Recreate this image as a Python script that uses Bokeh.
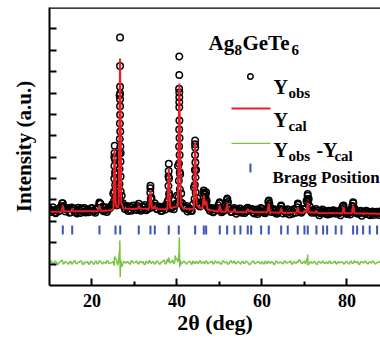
import numpy as np
from bokeh.plotting import figure
from bokeh.models import FixedTicker, Span, Range1d
from bokeh.embed import file_html
from bokeh.resources import INLINE
from bokeh.core.properties import value

# ---------------- data ----------------
scan_start, scan_step = 10.0, 0.5
obs_y = [
    3.60, 3.44, 3.52, 3.38, 3.58, 3.64, 3.85, 3.62, 3.55, 3.62,
    3.42, 3.60, 3.59, 3.37, 3.54, 3.61, 3.45, 3.41, 3.57, 3.51,
    3.62, 3.46, 3.54, 3.60, 3.82, 3.68, 3.52, 3.44, 3.60, 3.70,
    4.30, 5.20, 3.90, 8.90, 4.20, 3.70, 3.68, 3.48, 3.69, 3.63,
    3.57, 3.53, 3.82, 3.50, 3.70, 3.76, 3.58, 3.60, 4.10, 3.74,
    3.72, 3.56, 3.64, 3.50, 3.71, 3.77, 5.10, 3.60, 3.68, 3.75,
    4.20, 9.20, 4.30, 3.70, 3.66, 3.46, 3.61, 3.48, 4.60, 5.40,
    3.80, 3.70, 3.90, 4.30, 3.95, 3.60, 3.58, 3.42, 3.55, 3.52,
    3.85, 3.42, 3.50, 3.58, 3.90, 3.61, 3.44, 3.62, 3.36, 3.52,
    3.59, 3.43, 3.39, 3.60, 3.55, 3.58, 3.40, 3.48, 3.34, 3.52,
    3.58, 3.40, 3.50, 3.90, 3.55, 3.59, 3.41, 3.36, 3.50, 3.70,
    3.37, 3.45, 3.56, 3.32, 3.49, 3.56, 3.40, 3.78, 3.52, 3.46,
    3.55, 3.95, 4.05, 3.48, 3.53, 3.40, 3.50, 3.28, 3.45, 3.52,
    3.36, 3.32, 3.47, 3.41, 3.50, 3.35, 3.42, 3.28, 3.70, 3.50,
    3.34, 3.39, 3.55, 3.85, 3.40, 3.37, 3.47, 3.26, 3.43, 3.50,
    3.33, 3.29, 3.46, 3.39, 3.45, 3.30, 3.48,
]
# second interleaved set of observed points (10.25, 10.75, ...)
obs_y_mid = [
    3.52, 3.66, 3.41, 3.55, 3.47, 3.70, 3.72, 3.46, 3.58, 3.40,
    3.65, 3.50, 3.44, 3.63, 3.39, 3.56, 3.62, 3.48, 3.43, 3.60,
    3.50, 3.40, 3.63, 3.88, 3.55, 3.47, 3.66, 3.54, 3.62, 3.80,
    6.00, 3.85, 4.60, 6.20, 3.85, 3.58, 3.72, 3.55, 3.50, 3.74,
    3.66, 3.72, 3.60, 3.54, 3.66, 3.52, 3.70, 4.55, 3.66, 3.85,
    3.58, 3.70, 3.48, 3.62, 3.55, 3.90, 4.20, 3.62, 3.56, 3.82,
    5.60, 5.20, 3.85, 3.60, 3.72, 3.55, 3.50, 3.78, 6.60, 4.10,
    3.72, 3.80, 4.35, 4.25, 3.66, 3.50, 3.62, 3.46, 3.58, 3.75,
    3.62, 3.48, 3.55, 4.00, 3.60, 3.44, 3.56, 3.50, 3.46, 3.60,
    3.40, 3.54, 3.47, 3.62, 3.50, 3.56, 3.37, 3.55, 3.44, 3.62,
    3.46, 3.38, 3.60, 3.82, 3.44, 3.52, 3.55, 3.42, 3.58, 3.55,
    3.48, 3.38, 3.52, 3.45, 3.36, 3.55, 3.66, 3.50, 3.40, 3.58,
    3.60, 4.20, 3.70, 3.40, 3.46, 3.58, 3.42, 3.38, 3.55, 3.44,
    3.46, 3.50, 3.35, 3.52, 3.44, 3.47, 3.39, 3.58, 3.62, 3.40,
    3.45, 3.32, 3.72, 3.60, 3.48, 3.36, 3.50, 3.40, 3.35, 3.47,
    3.42, 3.38, 3.30, 3.44, 3.36, 3.41,
]

# observed points on the peak flanks
peak_obs_x = [
    26.6, 26.6, 26.6, 26.6, 26.6, 26.6, 26.62, 26.58, 26.65, 26.55, 26.68, 26.52, 26.7, 26.5, 26.72, 26.48, 26.75, 26.45, 26.8, 26.4,
    25.35, 25.3, 25.4, 25.28, 25.42, 25.25, 25.45, 25.22, 25.5, 25.18, 25.55, 25.7, 25.9, 26.1, 26.3,
    40.55, 40.55, 40.55, 40.55, 40.55, 40.55, 40.57, 40.52, 40.6, 40.5, 40.62, 40.48, 40.65, 40.45, 40.68, 40.42, 40.72, 40.35,
    38.07, 38.05, 38.12, 38.0, 38.15, 37.98, 38.2,
    33.76, 33.72, 33.82, 33.7,
    44.28, 44.3, 44.25, 44.33, 44.22, 44.36, 44.2, 44.4, 44.15, 44.5,
    46.3, 46.85, 46.35, 46.8, 46.6,
    50.07, 51.85, 51.8, 56.66, 61.6, 61.62, 64.52, 68.45,
    70.78, 70.75, 70.85, 70.6, 79.2, 81.46, 81.5, 13.13, 21.76,
]
peak_obs_y = [
    11.60, 10.27, 9.29, 8.98, 8.71, 8.38, 7.98, 7.57, 7.20, 6.85, 6.50, 6.15, 5.80, 5.45, 5.10, 4.75, 4.40, 4.10, 3.85, 3.90,
    6.54, 6.20, 5.90, 5.60, 5.30, 5.00, 4.70, 4.40, 4.15, 3.95, 3.85, 3.75, 3.75, 3.80, 4.00,
    10.71, 9.84, 9.03, 8.80, 8.57, 8.33, 7.71, 7.30, 6.90, 6.50, 6.10, 5.70, 5.30, 4.90, 4.50, 4.15, 3.90, 3.85,
    5.69, 5.35, 5.00, 4.65, 4.30, 4.00, 3.80,
    4.67, 4.35, 4.05, 3.80,
    6.78, 6.45, 6.10, 5.75, 5.40, 5.05, 4.70, 4.35, 4.05, 3.90,
    4.44, 4.36, 4.10, 4.05, 3.90,
    3.89, 4.07, 3.85, 3.64, 3.97, 3.75, 3.74, 3.83,
    4.28, 4.05, 3.85, 3.95, 3.74, 3.89, 3.70, 3.85, 3.85,
]

calc_x = [10.0, 12.8, 13.13, 13.45, 15.1, 15.34, 15.6, 21.45, 21.76, 22.1, 24.5, 25.05, 25.3, 25.6, 25.95,
          26.3, 26.6, 26.9, 27.4, 30.0, 30.8, 31.01, 31.3, 33.45, 33.76, 34.1, 34.5, 34.78, 35.1, 37.75,
          38.07, 38.4, 40.2, 40.55, 40.9, 41.5, 43.95, 44.28, 44.6, 45.5, 46.0, 46.31, 46.6, 46.87, 47.2,
          49.75, 50.07, 50.4, 51.5, 51.81, 52.1, 53.25, 53.53, 53.8, 56.35, 56.66, 57.0, 57.46, 57.8,
          61.3, 61.6, 61.9, 64.2, 64.52, 64.85, 68.1, 68.42, 68.75, 69.7, 70.0, 70.3, 70.5, 70.78, 71.1,
          72.55, 72.82, 73.1, 78.9, 79.2, 79.5, 81.15, 81.46, 81.8, 88.0]
calc_y = [3.45, 3.45, 3.74, 3.46, 3.47, 3.60, 3.47, 3.47, 3.74, 3.48, 3.52, 3.60, 6.39, 3.75, 3.62,
          3.80, 10.61, 3.85, 3.60, 3.58, 3.60, 3.72, 3.60, 3.58, 4.44, 3.62, 3.60, 3.72, 3.58, 3.56,
          5.45, 3.62, 3.70, 9.44, 3.80, 3.60, 3.56, 6.70, 3.75, 3.62, 3.60, 4.21, 3.75, 3.95, 3.55,
          3.45, 3.74, 3.45, 3.45, 3.83, 3.46, 3.44, 3.58, 3.44, 3.42, 3.58, 3.46, 3.52, 3.42,
          3.42, 3.83, 3.42, 3.40, 3.60, 3.40, 3.40, 3.66, 3.40, 3.40, 3.50, 3.42, 3.45, 3.89, 3.42,
          3.40, 3.50, 3.39, 3.38, 3.66, 3.38, 3.38, 3.74, 3.38, 3.36]

diff_grid_y = [
    1.05, 1.15, 1.02, 1.12, 0.98, 1.10, 1.18, 1.04, 1.08, 0.99,
    1.13, 1.06, 1.16, 1.01, 1.09, 1.14, 0.97, 1.07, 1.12, 1.03,
    1.10, 0.98, 1.15, 1.05, 1.11, 1.00, 1.08, 1.17, 1.02, 1.06,
    1.12, 1.25, 0.95, 1.30, 0.88, 1.14, 1.04, 1.10, 0.99, 1.13,
    1.07, 1.16, 1.01, 1.09, 1.12, 0.98, 1.06, 1.18, 1.03, 1.10,
    1.05, 1.13, 0.99, 1.08, 1.18, 1.02, 1.11, 1.06, 1.20, 1.15,
    1.22, 1.35, 1.00, 1.12, 1.04, 1.09, 1.14, 0.98, 1.07, 1.13,
    1.02, 1.16, 1.08, 1.00, 1.13, 1.06, 1.11, 0.99, 1.15, 1.04,
    1.09, 1.01, 1.14, 1.07, 0.98, 1.12, 1.05, 1.16, 1.03, 1.10,
    1.00, 1.13, 1.06, 1.11, 0.97, 1.08, 1.15, 1.02, 1.09, 1.04,
    1.12, 0.99, 1.07, 1.14, 1.03, 1.10, 0.98, 1.13, 1.05, 1.09,
    1.01, 1.15, 1.06, 1.10, 0.99, 1.12, 1.04, 1.08, 1.18, 1.02,
    1.14, 1.20, 1.00, 1.11, 1.06, 1.09, 0.98, 1.13, 1.04, 1.10,
    1.07, 1.01, 1.14, 1.05, 1.10, 0.99, 1.12, 1.06, 1.09, 1.03,
    1.11, 1.00, 1.15, 1.04, 1.08, 1.13, 0.98, 1.10, 1.05, 1.12,
    1.02, 1.09, 1.14, 1.03, 1.07, 1.11, 1.00,
]
diff_mid_y = [
    1.11, 1.01, 1.14, 1.04, 1.07, 1.16, 1.00, 1.12, 1.05, 1.10,
    0.99, 1.13, 1.03, 1.09, 1.15, 1.02, 1.11, 1.06, 0.98, 1.14,
    1.04, 1.12, 1.00, 1.17, 1.06, 1.09, 1.01, 1.13, 1.05, 1.08,
    0.92, 1.22, 1.10, 1.15, 1.00, 1.08, 1.12, 1.03, 1.16, 1.05,
    1.10, 1.02, 1.13, 1.06, 0.99, 1.15, 1.04, 1.09, 1.11, 1.00,
    1.14, 1.03, 1.10, 1.16, 1.01, 1.24, 1.07, 1.12, 1.00, 1.26,
    1.10, 1.20, 1.05, 1.13, 1.00, 1.10, 1.06, 1.15, 1.02, 1.08,
    1.12, 1.03, 1.10, 1.15, 1.01, 1.08, 1.13, 1.04, 1.09, 1.11,
    1.00, 1.14, 1.06, 1.10, 1.03, 1.16, 1.08, 1.01, 1.12, 1.05,
    1.11, 1.02, 1.14, 1.07, 1.00, 1.12, 1.04, 1.09, 1.13, 1.01,
    1.06, 1.15, 1.02, 1.08, 1.11, 1.00, 1.14, 1.05, 1.10, 1.03,
    1.13, 1.04, 1.09, 1.16, 1.02, 1.07, 1.12, 1.20, 1.05, 1.10,
    1.00, 1.30, 1.08, 1.04, 1.13, 1.01, 1.10, 1.06, 1.15, 1.03,
    1.09, 1.12, 1.02, 1.08, 1.14, 1.04, 1.07, 1.11, 1.00, 1.13,
    1.05, 1.10, 1.03, 1.16, 1.06, 1.01, 1.12, 1.08, 1.14, 1.02,
    1.10, 1.05, 1.13, 1.00, 1.08, 1.12,
]
diff_spike_x = [25.3, 26.45, 26.55, 26.65, 26.75, 38.1, 39.6, 40.45, 40.55, 40.65, 70.75, 70.85]
diff_spike_y = [1.35, 1.60, 2.10, 0.40, 1.20, 1.30, 1.40, 1.50, 2.26, 0.85, 1.45, 0.95]

bragg_pos = [13.13, 15.34, 21.76, 25.53, 26.64, 31.01, 33.76, 34.78, 38.07, 40.42, 44.28, 46.31, 46.87,
             50.07, 51.81, 53.53, 54.94, 56.66, 57.46, 59.81, 61.6, 64.52, 66.07, 68.42, 70.0, 70.78,
             72.82, 74.4, 75.34, 77.36, 78.71, 81.46, 82.4, 83.81, 85.36, 87.1]

x_ticks = [20, 40, 60, 80]
x_minor = [30, 50, 70]
y_ticks = list(range(1, 13))

# ---------------- assemble ----------------
obs_x = [scan_start + i * scan_step for i in range(len(obs_y))]
obs_x_mid = [scan_start + scan_step / 2 + i * scan_step for i in range(len(obs_y_mid))]

diff_x_all = ([scan_start + i * scan_step for i in range(len(diff_grid_y))]
              + [scan_start + scan_step / 2 + i * scan_step for i in range(len(diff_mid_y))]
              + diff_spike_x)
diff_y_all = diff_grid_y + diff_mid_y + diff_spike_y
order = np.argsort(diff_x_all, kind="stable")
diff_x = [diff_x_all[i] for i in order]
diff_y = [diff_y_all[i] for i in order]

RED = "#ec1c24"
GREEN = "#7cc242"
BLUE = "#3a55b4"
FONT = "Liberation Serif"

# reference-pixel helpers for annotation placement
def X(px):
    return 20 + (px - 91.5) / 4.25

def Y(py):
    return (285 - py) / 21.38

p = figure(width=380, height=343, x_range=Range1d(10, 87.9), y_range=Range1d(0, 13),
           output_backend="svg", toolbar_location=None,
           min_border_left=49, min_border_right=0, min_border_top=7, min_border_bottom=58)
p.outline_line_color = None
p.grid.visible = False

for ax in (p.xaxis[0], p.yaxis[0]):
    ax.axis_line_width = 2
    ax.axis_line_color = "black"
    ax.major_tick_line_width = 2
    ax.minor_tick_line_width = 2
    ax.major_tick_out = 0
    ax.minor_tick_out = 0
    ax.major_tick_in = 7
    ax.minor_tick_in = 4
    ax.axis_label_text_font = FONT
    ax.axis_label_text_font_style = "bold"
    ax.axis_label_text_color = "black"
    ax.major_label_text_font = FONT
    ax.major_label_text_font_style = "bold"
    ax.major_label_text_color = "black"

p.xaxis.ticker = FixedTicker(ticks=x_ticks, minor_ticks=x_minor)
p.xaxis.major_label_text_font_size = "18px"
p.xaxis.major_label_standoff = 8
p.xaxis.axis_label = "2θ (deg)"
p.xaxis.axis_label_text_font_size = "22px"
p.xaxis.axis_label_standoff = 0

p.yaxis.ticker = FixedTicker(ticks=y_ticks, minor_ticks=[])
p.yaxis.major_label_overrides = {t: "" for t in y_ticks}
p.yaxis.major_label_standoff = 0
p.yaxis.axis_label = "Intensity (a.u.)"
p.yaxis.axis_label_text_font_size = "21px"
p.yaxis.axis_label_standoff = 14

p.add_layout(Span(location=13, dimension="width", line_color="black", line_width=2.5))

# data layers
p.line(diff_x, diff_y, line_color=GREEN, line_width=1.5)
p.segment(x0=bragg_pos, y0=2.38, x1=bragg_pos, y1=2.8, line_color=BLUE, line_width=2)
p.scatter(obs_x, obs_y, marker="circle", size=6.5, fill_color=None, line_color="black", line_width=1.5)
p.scatter(obs_x_mid, obs_y_mid, marker="circle", size=6.5, fill_color=None, line_color="black", line_width=1.5)
p.scatter(peak_obs_x, peak_obs_y, marker="circle", size=6.5, fill_color=None, line_color="black", line_width=1.5)
p.line(calc_x, calc_y, line_color=RED, line_width=2)

# legend (drawn by hand)
p.scatter([X(250)], [Y(76)], marker="circle", size=5.5, fill_color=None, line_color="black", line_width=1.5)
p.line([X(231), X(270)], [Y(108), Y(108)], line_color=RED, line_width=2)
p.line([X(231), X(270)], [Y(143), Y(143)], line_color=GREEN, line_width=1.2)
p.segment(x0=[X(250)], y0=[Y(172)], x1=[X(250)], y1=[Y(163)], line_color=BLUE, line_width=2)

def txt(items, size):
    p.text(x=[X(a) for _, a, _ in items], y=[Y(b) for _, _, b in items], text=[t for t, _, _ in items],
           text_font=value(FONT), text_font_style="bold", text_font_size=size,
           text_color="black", text_baseline="alphabetic", text_align="left")

txt([("Ag", 208, 43), ("GeTe", 242, 43)], "21px")
txt([("8", 234, 50), ("6", 291, 50)], "15px")
txt([("Y", 273, 87), ("Y", 273, 120), ("Y", 273, 150), ("-Y", 316, 150)], "20px")
txt([("obs", 288, 93), ("cal", 288, 126), ("obs", 288, 156), ("cal", 334, 156)], "15px")
txt([("Bragg Position", 272, 177)], "17px")

open("out.html", "w").write(file_html(p, INLINE))
